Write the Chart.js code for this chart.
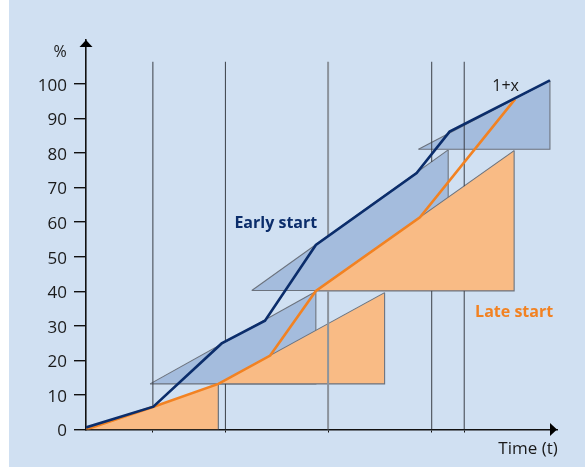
<!DOCTYPE html>
<html><head><meta charset="utf-8">
<script src="https://cdn.jsdelivr.net/npm/chart.js@4.4.1/dist/chart.umd.min.js"></script>
<style>
html,body{margin:0;padding:0;background:#fff;width:585px;height:468px;overflow:hidden}
#panel{position:absolute;left:9px;top:0;width:576px;height:467px;background:#D0E0F2}
#c{position:absolute;left:0;top:0}
</style></head><body>
<div id="panel"></div>
<canvas id="c" width="585" height="468"></canvas>
<script>
// ---------- data (x: time in % of axis length, y: %) ----------
const yTicks = [0,10,20,30,40,50,60,70,80,90,100];
const xTicks = [14.2, 29.6, 51.4, 73.4, 80.3];
const earlyStart = [[0,0.6],[14.3,6.6],[28.8,24.9],[38.0,31.5],[48.8,53.4],[70.2,74.2],[77.2,86.2],[98.5,101.0]];
const lateStart  = [[0,0],[14.2,6.5],[28.1,13.2],[39.1,21.4],[48.8,40.1],[70.9,61.4],[91.1,95.6]];
const firstOrange = [[0,0],[14.2,6.5],[28.1,13.2]];
// wedges: [apexX, baseY, cornerX, topY]
const blueWedges   = [[13.6,13.2,48.8,39.9],[35.2,40.2,76.9,80.9],[70.6,81.1,98.5,101.0]];
const orangeWedges = [[28.1,13.2,63.4,39.6],[48.8,40.1,90.9,80.7]];
// vertical milestone lines: visible segments [yFrom, yTo] for each xTicks entry
const milestoneSegs = [[[6.5,106.4]], [[0,13.2],[25.5,106.4]], [[0,40.1],[55.9,106.4]], [[0,40.1],[77.4,106.4]], [[0,40.1],[70.4,106.4]]];
const seriesNames = ['Early start','Late start'];
const peakLabel = '1+x';
const yUnit = '%';
const xTitle = 'Time (t)';

// ---------- styles ----------
const BLUE_FILL = '#A4BCDD', ORANGE_FILL = '#F9BB85', EDGE = '#6B727D';
const DARK = '#0B2D6B', ORANGE = '#F28222';
const FONT = '"Open Sans", "DejaVu Sans", sans-serif';

const P = a => a.map(([x,y]) => ({x,y}));
const layers = [];
layers.push({data:P(firstOrange), fill:{value:0}, backgroundColor:ORANGE_FILL, borderWidth:0});
layers.push({data:P([[firstOrange[2][0],firstOrange[2][1]],[firstOrange[2][0],0]]), borderColor:EDGE, borderWidth:1.2});
function wedge(w, color){
  const [ax, by, cx, ty] = w;
  layers.push({data:P([[ax,by],[cx,ty]]), fill:{value:by}, backgroundColor:color, borderColor:EDGE, borderWidth:1.1});
  layers.push({data:P([[cx,ty],[cx,by],[ax,by]]), borderColor:EDGE, borderWidth:1.1});
}
wedge(blueWedges[0], BLUE_FILL);
wedge(orangeWedges[0], ORANGE_FILL);
wedge(blueWedges[1], BLUE_FILL);
wedge(orangeWedges[1], ORANGE_FILL);
wedge(blueWedges[2], BLUE_FILL);
milestoneSegs.forEach((segs, i) => {
  segs.forEach(([a,b]) => {
    layers.push({data:P([[xTicks[i],a],[xTicks[i],b]]),
      borderColor: i===2 ? '#8C939C' : '#3A3F47', borderWidth: i===2 ? 2 : 1});
  });
});
layers.push({data:P(lateStart), borderColor:ORANGE, borderWidth:2.6});
layers.push({data:P(earlyStart), borderColor:DARK, borderWidth:2.6});

const datasets = layers.map((d,i) => Object.assign({showLine:true, pointRadius:0, tension:0, fill:false, order: layers.length - i}, d));

const deco = {
  id:'deco',
  afterDraw(chart){
    const {ctx, chartArea:a, scales:{x,y}} = chart;
    ctx.save();
    ctx.fillStyle = '#000';
    ctx.beginPath(); ctx.moveTo(a.left, a.top); ctx.lineTo(a.left-6.5, a.top+7); ctx.lineTo(a.left+6.5, a.top+7); ctx.closePath(); ctx.fill();
    ctx.beginPath(); ctx.moveTo(a.right, a.bottom); ctx.lineTo(a.right-7, a.bottom-6.5); ctx.lineTo(a.right-7, a.bottom+6.5); ctx.closePath(); ctx.fill();
    ctx.textAlign = 'center'; ctx.textBaseline = 'middle';
    ctx.fillStyle = '#1a1a1a';
    ctx.font = '16px ' + FONT;
    ctx.fillText(yUnit, a.left-26, a.top+12);
    ctx.font = '17px ' + FONT;
    ctx.fillText(xTitle, a.right-29, a.bottom+20);
    ctx.font = '16px ' + FONT;
    ctx.fillText(peakLabel, x.getPixelForValue(89.1), y.getPixelForValue(99.3));
    ctx.font = 'bold 16px ' + FONT;
    ctx.fillStyle = DARK;
    ctx.fillText(seriesNames[0], x.getPixelForValue(40.3), y.getPixelForValue(59.5));
    ctx.fillStyle = ORANGE;
    ctx.fillText(seriesNames[1], x.getPixelForValue(90.9), y.getPixelForValue(34.0));
    ctx.restore();
  }
};

new Chart(document.getElementById('c'), {
  type:'scatter',
  data:{datasets},
  options:{
    responsive:false, animation:false,
    layout:{padding:{top:40, right:28, bottom:0, left:0}},
    plugins:{legend:{display:false}, tooltip:{enabled:false}},
    events:[],
    scales:{
      x:{type:'linear', min:0, max:100,
        afterBuildTicks:s => { s.ticks = xTicks.map(v => ({value:v})); },
        afterFit:s => { s.height = 38.5; },
        ticks:{display:false},
        grid:{drawOnChartArea:false, drawTicks:true, tickLength:3, color:'#111', lineWidth:1},
        border:{display:true, color:'#111', width:1.6}},
      y:{type:'linear', min:0, max:112.7,
        afterBuildTicks:s => { s.ticks = yTicks.map(v => ({value:v})); },
        afterFit:s => { s.width = 86; },
        ticks:{color:'#1a1a1a', font:{family:FONT, size:17}, padding:7, labelOffset:2},
        grid:{drawOnChartArea:false, drawTicks:true, tickLength:12, color:'#111', lineWidth:1.4},
        border:{display:true, color:'#111', width:1.6}}
    }
  },
  plugins:[deco]
});
</script>
</body></html>
